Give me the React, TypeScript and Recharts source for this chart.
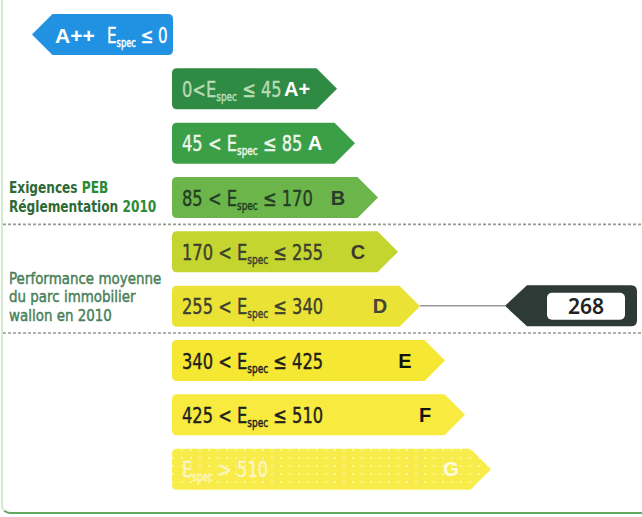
import React from "react";
import { BarChart, Bar, XAxis, YAxis, ReferenceArea, ReferenceLine } from "recharts";

// energy classes, top to bottom
const classes = ["A++", "A+", "A", "B", "C", "D", "E", "F", "G"];
const lowerBounds = [null, 0, 45, 85, 170, 255, 340, 425, 510];
const upperBounds = [0, 45, 85, 170, 255, 340, 425, 510, null];
// arrow extent, in label units (0..642 across the sheet)
const arrowStart = [32, 172, 172, 172, 172, 172, 172, 172, 172];
const arrowEnd = [173, 337, 355, 378, 398, 420, 445, 465, 491];
const pointsLeft = [true, false, false, false, false, false, false, false, false];

const fills = ["#2192e2", "#2f8a44", "#3a9f47", "#6cb54b", "#c3d52e", "#eae336", "#f6e733", "#f8ea3f", "#f8ec4a"];
const rangeColors = ["#ffffff", "#b9dcb5", "#eef6ec", "#243d24", "#3b4030", "#3f3f2f", "#1e1e1e", "#1e1e1e", "#fdf6c4"];
const letterColors = ["#ffffff", "#ffffff", "#ffffff", "#2b3b2b", "#3b3b30", "#45453a", "#141414", "#141414", "#fffbe0"];

// dotted separators sit on top of these classes
const separatorClasses = ["C", "E"];

// building result
const ratedValue = 268;
const ratedClass = "D";
const markerStart = 505;
const markerEnd = 637;

const DARK = "#2d6a35";
const GREEN = "#2a8a35";
const NOTE = "#4a7f5a";
const notes: Record<string, { text: string; color: string; bold: boolean }[][]> = {
  B: [
    [{ text: "Exigences ", color: DARK, bold: true }, { text: "PEB", color: GREEN, bold: true }],
    [{ text: "Réglementation ", color: DARK, bold: true }, { text: "2010", color: GREEN, bold: true }],
  ],
  D: [
    [{ text: "Performance moyenne", color: NOTE, bold: false }],
    [{ text: "du parc immobilier", color: NOTE, bold: false }],
    [{ text: "wallon en 2010", color: NOTE, bold: false }],
  ],
};

const data = classes.map((cls, i) => ({
  cls,
  span: [arrowStart[i], arrowEnd[i]],
}));

// no condensed face installed, so squeeze DejaVu horizontally
const FONT = "'DejaVu Sans', sans-serif";
const BOLD = "'Liberation Sans', Arial, sans-serif";

function RangeText({ i, x, y, size, squeeze }: { i: number; x: number; y: number; size: number; squeeze: number }) {
  const lo = lowerBounds[i];
  const hi = upperBounds[i];
  const before = lo === null || hi === null ? "" : lo === 0 ? "0<" : `${lo} < `;
  const after = hi === null ? ` > ${lo}` : ` ≤ ${hi}`;
  return (
    <text
      transform={`translate(${x},${y}) scale(${squeeze},1)`}
      fontFamily={FONT}
      fontSize={size}
      fill={rangeColors[i]}
      stroke={rangeColors[i]}
      strokeWidth={0.45}
    >
      <tspan>{before}E</tspan>
      <tspan fontSize={size * 0.55} dy={4}>spec</tspan>
      <tspan dy={-4}>{after}</tspan>
    </text>
  );
}

function Arrow(props: any) {
  const { x, y, width: w, height: h, payload } = props;
  const i = classes.indexOf(payload.cls);
  const t = h / 2;
  const r = 5;
  const cy = y + h / 2;
  if (pointsLeft[i]) {
    const d = `M${x},${cy} L${x + t},${y} H${x + w - r} Q${x + w},${y} ${x + w},${y + r} V${y + h - r} Q${x + w},${y + h} ${x + w - r},${y + h} H${x + t} Z`;
    return (
      <g>
        <path d={d} fill={fills[i]} />
        <text x={x + 23} y={cy + 8} fontFamily={BOLD} fontWeight={700} fontSize={21} fill={letterColors[i]}>
          {classes[i]}
        </text>
        <RangeText i={i} x={x + 75} y={cy + 8} size={21} squeeze={0.72} />
      </g>
    );
  }
  const d = `M${x + r},${y} H${x + w - t} L${x + w},${cy} L${x + w - t},${y + h} H${x + r} Q${x},${y + h} ${x},${y + h - r} V${y + r} Q${x},${y} ${x + r},${y} Z`;
  return (
    <g>
      <path d={d} fill={fills[i]} />
      {payload.cls === "G" && <path d={d} fill="url(#dots)" />}
      <RangeText i={i} x={x + 10} y={cy + 8} size={22} squeeze={0.74} />
      <text x={x + w - 40} y={cy + 7} textAnchor="middle" fontFamily={BOLD} fontWeight={700} fontSize={20} fill={letterColors[i]}>
        {classes[i]}
      </text>
    </g>
  );
}

function NoteTick(props: any) {
  const { y, payload } = props;
  const lines = notes[payload.value];
  if (!lines) return null;
  const first = lines.length === 2 ? -4 : -22;
  return (
    <g>
      {lines.map((parts, li) => {
        const bold = parts[0].bold;
        return (
          <text
            key={li}
            transform={`translate(9,${y + first + li * 18.5}) scale(${bold ? 0.76 : 0.84},1)`}
            fontFamily={FONT}
            fontSize={16}
            textAnchor="start"
          >
            {parts.map((p, pi) => (
              <tspan
                key={pi}
                fill={p.color}
                stroke={p.bold ? "none" : p.color}
                strokeWidth={0.5}
                fontWeight={p.bold ? 700 : 400}
              >
                {p.text}
              </tspan>
            ))}
          </text>
        );
      })}
    </g>
  );
}

function Separator(props: any) {
  const { x, y, width } = props;
  return <line x1={x + 3} x2={x + width} y1={y} y2={y} stroke="#8f9e8f" strokeWidth={1.6} strokeDasharray="3 2" />;
}

function Marker(props: any) {
  const { x, y, width: w, height } = props;
  const h = 41;
  const cy = y + height / 2;
  const top = cy - h / 2;
  const r = 6;
  const d = `M${x},${cy} L${x + 22},${top} H${x + w - r} Q${x + w},${top} ${x + w},${top + r} V${top + h - r} Q${x + w},${top + h} ${x + w - r},${top + h} H${x + 22} Z`;
  const bx = x + 42;
  const bw = 78;
  return (
    <g>
      <path d={d} fill="#2e3a35" />
      <rect x={bx} y={cy - 13} width={bw} height={27} rx={5} fill="#ffffff" />
      <text x={bx + bw / 2} y={cy + 8} textAnchor="middle" fontFamily="'Noto Sans', 'Open Sans', sans-serif" fontWeight={600} fontSize={21} fill="#222">
        {ratedValue}
      </text>
    </g>
  );
}

export default function App() {
  const ratedIdx = classes.indexOf(ratedClass);
  return (
    <div style={{ position: "relative", width: 642, height: 517, overflow: "hidden", background: "#fff" }}>
      <style>{"body{margin:0}"}</style>
      <div
        style={{
          position: "absolute",
          left: 1,
          top: -20,
          width: 680,
          height: 532,
          borderLeft: "2px solid #d3ebcc",
          borderBottom: "2px solid #62a862",
          borderBottomLeftRadius: 9,
        }}
      />
      <BarChart
        width={642}
        height={517}
        data={data}
        layout="vertical"
        margin={{ top: 7, right: 0, bottom: 21, left: -1 }}
        style={{ position: "absolute", left: 0, top: 0 }}
      >
        <defs>
          <pattern id="dots" width="9" height="8" patternUnits="userSpaceOnUse">
            <circle cx="2" cy="2" r="0.9" fill="#ffffff" opacity="0.6" />
          </pattern>
        </defs>
        <XAxis type="number" domain={[0, 642]} hide />
        <YAxis
          type="category"
          dataKey="cls"
          width={1}
          axisLine={false}
          tickLine={false}
          interval={0}
          tick={<NoteTick />}
        />
        {separatorClasses.map((c) => (
          <ReferenceArea key={c} y1={c} y2={c} shape={<Separator />} />
        ))}
        <ReferenceLine
          segment={[
            { x: arrowEnd[ratedIdx], y: ratedClass },
            { x: markerStart, y: ratedClass },
          ]}
          stroke="#666"
          strokeWidth={1}
        />
        <ReferenceArea x1={markerStart} x2={markerEnd} y1={ratedClass} y2={ratedClass} shape={<Marker />} />
        <Bar dataKey="span" barSize={41} shape={<Arrow />} isAnimationActive={false} />
      </BarChart>
    </div>
  );
}
